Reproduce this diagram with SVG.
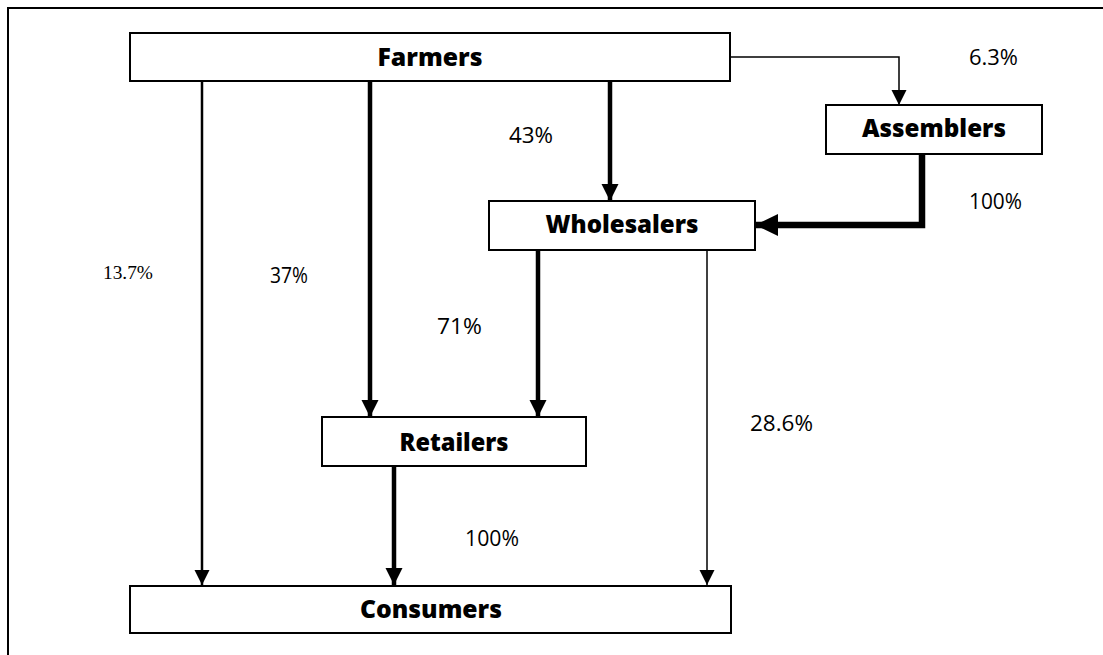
<svg xmlns="http://www.w3.org/2000/svg" width="1103" height="655" viewBox="0 0 1103 655">
<style>
.box{fill:#fff;stroke:#000;stroke-width:2}
.lbl{font-family:"Open Sans","Lato","DejaVu Sans",sans-serif;font-weight:800;font-size:25px;fill:#000;text-anchor:middle}
.pct{font-family:"Open Sans","Lato","DejaVu Sans",sans-serif;font-size:21px;fill:#000}
.ser{font-family:"Liberation Serif","Times New Roman",serif;font-size:19px;fill:#000}
.c{fill:none;stroke:#000}
</style>
<defs>
<marker id="aS" markerUnits="userSpaceOnUse" markerWidth="16" markerHeight="16" viewBox="0 0 16 16" refX="15" refY="8" orient="auto"><path d="M0,0.5 L15,8 L0,15.5 Z" fill="#000"/></marker>
<marker id="aM" markerUnits="userSpaceOnUse" markerWidth="18" markerHeight="18" viewBox="0 0 18 18" refX="17" refY="9" orient="auto"><path d="M0,0.5 L17,9 L0,17.5 Z" fill="#000"/></marker>
<marker id="aL" markerUnits="userSpaceOnUse" markerWidth="24" markerHeight="24" viewBox="0 0 24 24" refX="23" refY="12" orient="auto"><path d="M0,1 L23,12 L0,23 Z" fill="#000"/></marker>
</defs>
<path d="M8,660 V8 H1110" fill="none" stroke="#000" stroke-width="2"/>
<g id="connectors">
<path class="c" d="M202,82 V585" stroke-width="2.5" marker-end="url(#aS)"/>
<path class="c" d="M370,82 V417" stroke-width="4.5" marker-end="url(#aM)"/>
<path class="c" d="M610,82 V201" stroke-width="4.5" marker-end="url(#aM)"/>
<path class="c" d="M730,57 H899 V105" stroke-width="1.5" marker-end="url(#aS)"/>
<path class="c" d="M922,154 V225 H755" stroke-width="6.5" marker-end="url(#aL)"/>
<path class="c" d="M538,250 V417" stroke-width="4.5" marker-end="url(#aM)"/>
<path class="c" d="M707,250 V585" stroke-width="1.5" marker-end="url(#aS)"/>
<path class="c" d="M394,466 V585" stroke-width="4.5" marker-end="url(#aM)"/>
</g>
<g id="farmers"><rect class="box" x="130" y="33" width="600" height="48"/><text class="lbl" x="430" y="66" textLength="105" lengthAdjust="spacingAndGlyphs">Farmers</text></g>
<g id="assemblers"><rect class="box" x="826" y="105" width="216" height="49"/><text class="lbl" x="934" y="137" textLength="144" lengthAdjust="spacingAndGlyphs">Assemblers</text></g>
<g id="wholesalers"><rect class="box" x="489" y="201" width="266" height="49"/><text class="lbl" x="622" y="233" textLength="153" lengthAdjust="spacingAndGlyphs">Wholesalers</text></g>
<g id="retailers"><rect class="box" x="322" y="417" width="264" height="49"/><text class="lbl" x="454" y="451" textLength="109" lengthAdjust="spacingAndGlyphs">Retailers</text></g>
<g id="consumers"><rect class="box" x="130" y="586" width="601" height="47"/><text class="lbl" x="431" y="618" textLength="142" lengthAdjust="spacingAndGlyphs">Consumers</text></g>
<g id="labels">
<text class="pct" x="969" y="65" textLength="49" lengthAdjust="spacingAndGlyphs">6.3%</text>
<text class="pct" x="509" y="143" textLength="44" lengthAdjust="spacingAndGlyphs">43%</text>
<text class="pct" x="969" y="209" textLength="53" lengthAdjust="spacingAndGlyphs">100%</text>
<text class="ser" x="103" y="279" textLength="50" lengthAdjust="spacingAndGlyphs">13.7%</text>
<text class="pct" x="270" y="283" textLength="38" lengthAdjust="spacingAndGlyphs">37%</text>
<text class="pct" x="437" y="334" textLength="45" lengthAdjust="spacingAndGlyphs">71%</text>
<text class="pct" x="750" y="431" textLength="63" lengthAdjust="spacingAndGlyphs">28.6%</text>
<text class="pct" x="465" y="546" textLength="54" lengthAdjust="spacingAndGlyphs">100%</text>
</g>
</svg>
